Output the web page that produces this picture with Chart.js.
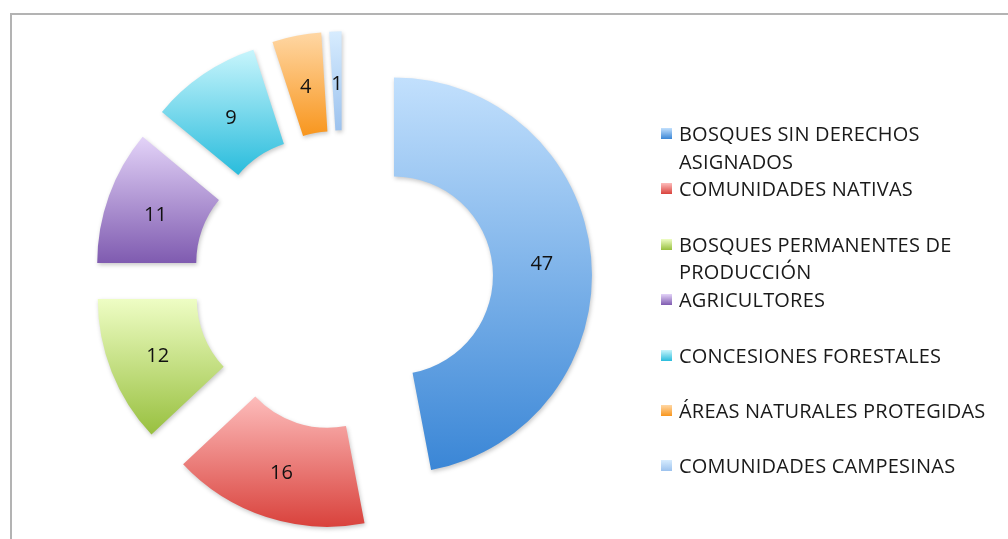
<!DOCTYPE html>
<html>
<head>
<meta charset="utf-8">
<script src="https://cdn.jsdelivr.net/npm/chart.js@4/dist/chart.umd.min.js"></script>
<style>
  html, body { margin: 0; padding: 0; background: #fff; }
  #wrap { position: relative; width: 1008px; height: 539px; overflow: hidden; }
  #frame { position: absolute; left: 10px; top: 13px; width: 1100px; height: 600px;
           border: 2px solid #b3b3b3; box-sizing: border-box; }
  #pie { position: absolute; left: 0; top: 0; }
  #legend { position: absolute; left: 661px; top: 120px; font-family: "Open Sans", sans-serif;
            font-size: 20px; letter-spacing: 0.2px; color: #1a1a1a; }
  .item { position: relative; height: 55.4px; }
  .box { position: absolute; left: 0; top: 8px; width: 11px; height: 11px; }
  .txt { position: absolute; left: 18px; top: 0; width: 322px; line-height: 27.7px; white-space: normal; }
</style>
</head>
<body>
<div id="wrap">
  <div id="frame"></div>
  <canvas id="pie" width="1008" height="539"></canvas>
  <div id="legend"></div>
</div>
<script>
// data
const labels = [
  'BOSQUES SIN DERECHOS ASIGNADOS',
  'COMUNIDADES NATIVAS',
  'BOSQUES PERMANENTES DE PRODUCCIÓN',
  'AGRICULTORES',
  'CONCESIONES FORESTALES',
  'ÁREAS NATURALES PROTEGIDAS',
  'COMUNIDADES CAMPESINAS'
];
const values = [47, 16, 12, 11, 9, 4, 1];
const topColors = ['#c2e0fd', '#fdbcbb', '#eefdc4', '#e3d3f8', '#c8f5fc', '#ffd7a4', '#d7ecfe'];
const bottomColors = ['#3a86d6', '#d9423c', '#98c03f', '#7f5bb0', '#29bcdc', '#f8961e', '#9cc2ee'];

const EXPLODE = 51;

// draw every slice pushed out along its middle angle, with a vertical gradient
const explodePlugin = {
  id: 'explode',
  beforeDatasetDraw(chart, args) {
    const ctx = chart.ctx;
    const meta = args.meta;
    meta.data.forEach((arc, i) => {
      const p = arc.getProps(['x', 'y', 'startAngle', 'endAngle', 'innerRadius', 'outerRadius']);
      const mid = (p.startAngle + p.endAngle) / 2;
      const dx = Math.cos(mid) * EXPLODE;
      const dy = Math.sin(mid) * EXPLODE;
      let ymin = Infinity, ymax = -Infinity;
      for (let k = 0; k <= 40; k++) {
        const a = p.startAngle + (p.endAngle - p.startAngle) * k / 40;
        [p.innerRadius, p.outerRadius].forEach(r => {
          const yy = p.y + Math.sin(a) * r;
          ymin = Math.min(ymin, yy); ymax = Math.max(ymax, yy);
        });
      }
      const g = ctx.createLinearGradient(0, ymin, 0, ymax);
      g.addColorStop(0, topColors[i]);
      g.addColorStop(1, bottomColors[i]);
      arc.options.backgroundColor = g;
      ctx.save();
      ctx.translate(dx, dy);
      ctx.shadowColor = 'rgba(0,0,0,0.22)';
      ctx.shadowBlur = 4;
      ctx.shadowOffsetX = 1;
      ctx.shadowOffsetY = 2;
      arc.draw(ctx);
      ctx.restore();
    });
    return false;
  },
  afterDatasetsDraw(chart) {
    const ctx = chart.ctx;
    const meta = chart.getDatasetMeta(0);
    ctx.save();
    ctx.font = '20px "Open Sans", sans-serif';
    ctx.fillStyle = '#111';
    ctx.textAlign = 'center';
    ctx.textBaseline = 'middle';
    meta.data.forEach((arc, i) => {
      const p = arc.getProps(['x', 'y', 'startAngle', 'endAngle', 'innerRadius', 'outerRadius']);
      const mid = (p.startAngle + p.endAngle) / 2;
      const r = (p.innerRadius + p.outerRadius) / 2 + EXPLODE;
      ctx.fillText(String(values[i]), p.x + Math.cos(mid) * r, p.y + Math.sin(mid) * r + 3);
    });
    ctx.restore();
  }
};

new Chart(document.getElementById('pie'), {
  type: 'doughnut',
  data: {
    labels: labels,
    datasets: [{
      data: values,
      backgroundColor: bottomColors,
      borderWidth: 0,
      hoverOffset: 0
    }]
  },
  options: {
    responsive: false,
    animation: false,
    radius: 198,
    cutout: '50%',
    layout: { padding: { left: 0, right: 321.6, top: 21.6, bottom: 0 } },
    plugins: {
      legend: { display: false },
      tooltip: { enabled: false }
    }
  },
  plugins: [explodePlugin]
});

// legend as html
const legend = document.getElementById('legend');
labels.forEach((name, i) => {
  const item = document.createElement('div');
  item.className = 'item';
  const box = document.createElement('div');
  box.className = 'box';
  box.style.background = 'linear-gradient(' + topColors[i] + ', ' + bottomColors[i] + ')';
  const txt = document.createElement('div');
  txt.className = 'txt';
  txt.textContent = name;
  item.appendChild(box);
  item.appendChild(txt);
  legend.appendChild(item);
});
</script>
</body>
</html>
